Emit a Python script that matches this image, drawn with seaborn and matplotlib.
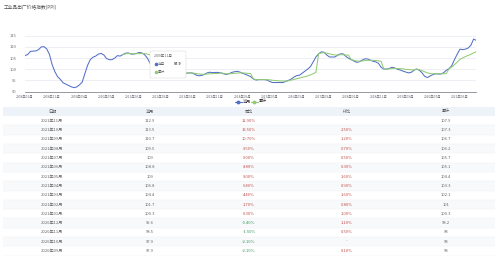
import numpy as np
import pandas as pd
import matplotlib
matplotlib.use("Agg")
import matplotlib.pyplot as plt
import seaborn as sns
from matplotlib.patches import Rectangle, FancyBboxPatch

sns.set_theme(style="white")
plt.rcParams['font.family'] = ['Noto Sans CJK SC', 'DejaVu Sans']

# ---------------- data ----------------
title = "工业品出厂价格指数(PPI)"
start_year, start_month = 2008, 1
# 当月 (monthly, yoy index) 2008-01 .. 2021-11
current = [
    106.1, 106.6, 108.0, 108.1, 108.2, 108.8, 110.0, 110.1, 109.1, 106.6, 102.0, 98.9,
    96.7, 95.5, 94.0, 93.4, 92.8, 92.2, 91.8, 92.1, 93.0, 94.2, 97.9, 101.7,
    104.3, 105.4, 105.9, 106.8, 107.1, 106.4, 104.8, 104.3, 104.3, 105.0, 106.1, 105.9,
    106.6, 107.2, 107.3, 106.8, 106.8, 107.1, 107.5, 107.3, 106.5, 105.0, 102.7, 101.7,
    100.7, 100.0, 99.7, 99.3, 98.6, 97.9, 97.1, 96.5, 96.4, 97.2, 97.8, 98.1,
    98.4, 98.4, 98.1, 97.4, 97.1, 97.3, 97.7, 98.4, 98.7, 98.5, 98.6, 98.6,
    98.4, 98.0, 97.7, 98.0, 98.6, 98.9, 99.1, 98.8, 98.2, 97.8, 97.3, 96.7,
    95.7, 95.2, 95.4, 95.4, 95.4, 95.2, 94.6, 94.1, 94.1, 94.1, 94.1, 94.1,
    94.7, 95.1, 95.7, 96.6, 97.2, 97.4, 98.3, 99.2, 100.1, 101.2, 103.3, 105.5,
    106.9, 107.8, 107.6, 106.4, 105.5, 105.5, 105.5, 106.3, 106.9, 106.9, 105.8, 104.9,
    104.3, 103.7, 103.1, 103.4, 104.1, 104.7, 104.6, 104.1, 103.6, 103.3, 102.7, 100.9,
    100.1, 100.1, 100.4, 100.9, 100.6, 100.0, 99.7, 99.2, 98.8, 98.4, 98.6, 99.5,
    100.1, 99.6, 98.5, 96.9, 96.3, 97.0, 97.6, 98.0, 97.9, 97.9, 98.5, 99.6,
    100.3, 101.7, 104.4, 106.8, 109.0, 108.8, 109.0, 109.5, 110.7, 113.5, 112.9,
]
nan = np.nan
# 累计 (cumulative) – not available before 2011
cumulative = [nan] * 36 + [
    106.6, 106.9, 107.0, 107.0, 106.9, 107.0, 107.0, 107.1, 107.0, 106.8, 106.4, 106.0,
    100.7, 100.3, 100.1, 99.9, 99.6, 99.4, 99.1, 98.8, 98.6, 98.5, 98.4, 98.3,
    98.4, 98.4, 98.3, 98.1, 97.9, 97.8, 97.8, 97.9, 98.0, 98.1, 98.1, 98.1,
    98.4, 98.2, 98.0, 98.0, 98.1, 98.2, 98.3, 98.4, 98.4, 98.3, 98.2, 98.1,
    95.7, 95.4, 95.4, 95.4, 95.4, 95.4, 95.3, 95.1, 95.0, 94.9, 94.8, 94.8,
    94.7, 94.9, 95.2, 95.5, 95.8, 96.1, 96.4, 96.7, 97.1, 97.5, 98.0, 98.6,
    106.9, 107.3, 107.4, 107.2, 106.9, 106.6, 106.4, 106.4, 106.5, 106.5, 106.4, 106.3,
    104.3, 104.0, 103.7, 103.6, 103.7, 103.9, 104.0, 104.0, 104.0, 103.9, 103.8, 103.5,
    100.1, 100.1, 100.2, 100.4, 100.4, 100.3, 100.3, 100.2, 100.0, 99.9, 99.8, 99.7,
    100.1, 99.8, 99.4, 98.9, 98.4, 98.1, 98.0, 98.0, 98.0, 98.0, 98.0, 98.2,
    100.3, 101.0, 102.1, 103.3, 104.4, 105.1, 105.7, 106.2, 106.7, 107.3, 107.9,
]
series_names = ["当月", "累计"]
y_ticks = [90, 95, 100, 105, 110, 115]
x_tick_step = 10

# table
tbl_header = ["日期", "当月", "同比", "环比", "累计"]
tbl_dates = ["2021年11月", "2021年10月", "2021年09月", "2021年08月", "2021年07月",
             "2021年06月", "2021年05月", "2021年04月", "2021年03月", "2021年02月",
             "2021年01月", "2020年12月", "2020年11月", "2020年10月", "2020年09月"]
tbl_current = ["112.9", "113.5", "110.7", "109.5", "109", "108.8", "109", "106.8",
               "104.4", "101.7", "100.3", "99.6", "98.5", "97.9", "97.9"]
tbl_yoy = ["12.90%", "13.50%", "10.70%", "9.50%", "9.00%", "8.80%", "9.00%", "6.80%",
           "4.40%", "1.70%", "0.30%", "-0.40%", "-1.50%", "-2.10%", "-2.10%"]
tbl_mom = ["-", "2.50%", "1.20%", "0.70%", "0.50%", "0.30%", "1.60%", "0.90%",
           "1.60%", "0.80%", "1.00%", "1.10%", "0.50%", "-", "0.10%"]
tbl_cum = ["107.9", "107.3", "106.7", "106.2", "105.7", "105.1", "104.4", "103.3",
           "102.1", "101", "100.3", "98.2", "98", "98", "98"]

tooltip_title = "2009年11月"
tooltip_value = "97.9"

# ---------------- figure ----------------
W, H = 500, 256
fig = plt.figure(figsize=(W / 100, H / 100), dpi=100)
fig.patch.set_facecolor("white")

def fx(x):
    return x / W

def fy(y):
    return 1 - y / H

n = len(current)
months = pd.date_range(f"{start_year}-{start_month:02d}-01", periods=n, freq="MS")
labels = [f"{d.year}年{d.month:02d}月" for d in months]
df = pd.DataFrame({
    "idx": list(range(n)) * 2,
    "value": current + cumulative,
    "series": [series_names[0]] * n + [series_names[1]] * n,
})

blue, green = "#5470c6", "#91cc75"
x0_px, x1_px = 25, 476.3
y_top, y_bot = 35.7, 91.7
ax = fig.add_axes([fx(x0_px), fy(y_bot), fx(x1_px) - fx(x0_px), (y_bot - y_top) / H])
sns.lineplot(data=df, x="idx", y="value", hue="series", palette=[blue, green],
             hue_order=series_names, linewidth=0.75, ax=ax, legend=False)
ax.set_xlim(0, n - 1)
ax.set_ylim(90, 115)
ax.set_yticks(y_ticks)
ax.set_yticklabels([str(t) for t in y_ticks], fontsize=3.0, color="#6e7079")
xt = list(range(0, n, x_tick_step))
ax.set_xticks(xt)
ax.set_xticklabels([labels[i] for i in xt], fontsize=2.4, color="#6e7079")
ax.tick_params(axis="y", length=0, pad=6)
ax.tick_params(axis="x", length=1.2, width=0.4, color="#6e7079", pad=1.5)
ax.set_xlabel("")
ax.set_ylabel("")
ax.grid(axis="y", color="#e6e9f0", linewidth=0.5)
for s in ["top", "right", "left"]:
    ax.spines[s].set_visible(False)
ax.spines["bottom"].set_color("#6e7079")
ax.spines["bottom"].set_linewidth(0.5)
ax.set_facecolor("none")

# title
fig.text(fx(4), fy(7), title, fontsize=3.4, color="#555555", va="center", ha="left")

# legend
def legend_item(xc, color, text):
    fig.add_artist(plt.Line2D([fx(xc - 3.5), fx(xc + 3.5)], [fy(101.5)] * 2,
                              color=color, lw=0.8, transform=fig.transFigure))
    fig.add_artist(plt.Line2D([fx(xc)], [fy(101.5)], marker="o", ms=1.8, color=color,
                              mec=color, transform=fig.transFigure))
    fig.text(fx(xc + 5), fy(101.5), text, fontsize=3.0, color="#333333",
             va="center", ha="left")

legend_item(238, blue, series_names[0])
legend_item(254, green, series_names[1])

# tooltip
tb = FancyBboxPatch((fx(150), fy(78)), fx(186) - fx(150), (78 - 51) / H,
                    boxstyle="round,pad=0,rounding_size=0.004",
                    transform=fig.transFigure, facecolor="white",
                    edgecolor="#dddddd", linewidth=0.4, zorder=10)
fig.add_artist(tb)
fig.text(fx(154), fy(56), tooltip_title, fontsize=2.6, color="#666666",
         va="center", zorder=11)
for yy, col, name, val in [(64, blue, series_names[0], tooltip_value),
                           (72, green, series_names[1], "")]:
    fig.add_artist(plt.Line2D([fx(155.5)], [fy(yy)], marker="o", ms=1.6, color=col,
                              mec=col, transform=fig.transFigure, zorder=11))
    fig.text(fx(158), fy(yy), name, fontsize=2.6, color="#666666", va="center",
             zorder=11)
    if val:
        fig.text(fx(181), fy(yy), val, fontsize=2.6, color="#333333", va="center",
                 ha="right", fontweight="bold", zorder=11)

# table
col_x = [52, 150, 249, 347, 446]
tbl_left, tbl_right = 3, 495
header_y = 111.5
row_h = 9.3
fig.add_artist(Rectangle((fx(tbl_left), fy(header_y + row_h / 2)),
                         fx(tbl_right) - fx(tbl_left), row_h / H,
                         transform=fig.transFigure, facecolor="#eef2f9",
                         edgecolor="none", zorder=0))
for cx, h in zip(col_x, tbl_header):
    fig.text(fx(cx), fy(header_y), h, fontsize=3.0, color="#555555",
             ha="center", va="center")

red, grn, gray = "#c0504d", "#3a9a5a", "#666666"

def col_of(s):
    if s == "-":
        return gray
    return grn if s.startswith("-") else red

for i in range(len(tbl_dates)):
    yc = header_y + row_h * (i + 1)
    if i % 2 == 1:
        fig.add_artist(Rectangle((fx(tbl_left), fy(yc + row_h / 2)),
                                 fx(tbl_right) - fx(tbl_left), row_h / H,
                                 transform=fig.transFigure, facecolor="#f8f9fb",
                                 edgecolor="none", zorder=0))
    fig.add_artist(plt.Line2D([fx(tbl_left), fx(tbl_right)], [fy(yc + row_h / 2)] * 2,
                              color="#f0f0f0", lw=0.3, transform=fig.transFigure))
    vals = [tbl_dates[i], tbl_current[i], tbl_yoy[i], tbl_mom[i], tbl_cum[i]]
    colors = [gray, gray, col_of(tbl_yoy[i]), col_of(tbl_mom[i]), gray]
    for cx, v, c in zip(col_x, vals, colors):
        fig.text(fx(cx), fy(yc), v, fontsize=3.0, color=c, ha="center", va="center")

fig.savefig("out.png", dpi=100, facecolor="white")
